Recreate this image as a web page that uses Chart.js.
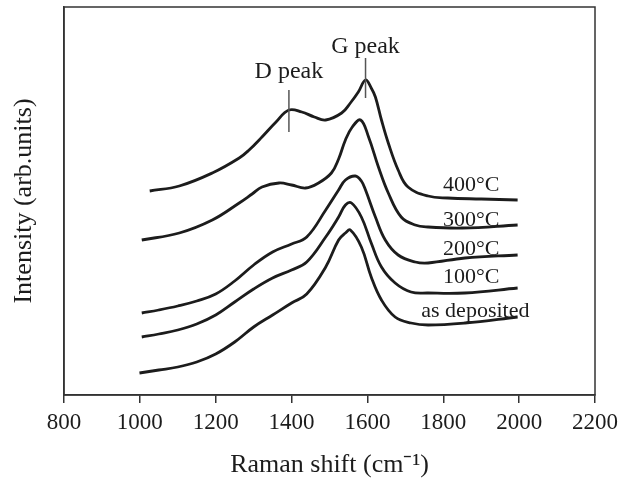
<!DOCTYPE html>
<html>
<head>
<meta charset="utf-8">
<script src="https://cdn.jsdelivr.net/npm/chart.js@4/dist/chart.umd.min.js"></script>
<style>
  body { margin: 0; background: #fff; }
  #chart { display: block; }
</style>
</head>
<body>
<canvas id="chart" width="624" height="483"></canvas>
<script>
// Raman spectra, values (arbitrary intensity units)
var shift400 = [1026, 1104, 1191, 1262, 1288, 1322, 1359, 1393, 1427, 1460, 1490, 1532, 1555, 1576, 1595, 1610, 1621, 1637, 1655, 1681, 1707, 1760, 1812, 1900, 1996];
var int400   = [204, 209, 222, 237, 245, 258, 273, 285, 283, 278, 275, 282, 292, 303, 315, 307, 298, 275, 252, 225, 208, 199, 197, 196, 195];

var shift300 = [1005, 1104, 1191, 1262, 1296, 1322, 1367, 1400, 1437, 1471, 1505, 1524, 1542, 1560, 1582, 1603, 1629, 1655, 1689, 1726, 1760, 1850, 1996];
var int300   = [155, 162, 175, 192, 201, 208, 212, 210, 207, 212, 222, 236, 255, 268, 275, 258, 228, 202, 178, 170, 168, 167, 170];

var shift200 = [1005, 1050, 1100, 1150, 1200, 1250, 1300, 1350, 1400, 1440, 1490, 1524, 1542, 1568, 1584, 1595, 1621, 1647, 1681, 1726, 1760, 1857, 1996];
var int200   = [82, 85, 89, 94, 101, 114, 130, 143, 151, 158, 185, 205, 215, 219, 214, 205, 178, 155, 140, 133, 132, 137, 140];

var shift100 = [1005, 1050, 1100, 1150, 1200, 1250, 1300, 1350, 1400, 1440, 1490, 1524, 1542, 1558, 1584, 1610, 1637, 1673, 1715, 1760, 1857, 1996];
var int100   = [58, 61, 65, 71, 80, 93, 106, 117, 125, 133, 158, 178, 190, 192, 178, 152, 128, 112, 103, 102, 102, 107];

var shiftDep = [999, 1050, 1100, 1150, 1200, 1250, 1300, 1350, 1400, 1440, 1490, 1524, 1542, 1555, 1584, 1610, 1637, 1673, 1715, 1760, 1857, 1996];
var intDep   = [22, 25, 28, 33, 41, 53, 68, 80, 92, 101, 128, 155, 162, 165, 148, 118, 95, 78, 72, 70, 72, 78];

var xTicks = [800, 1000, 1200, 1400, 1600, 1800, 2000, 2200];

// text labels next to the curves
var curveLabels = ['400°C', '300°C', '200°C', '100°C', 'as deposited'];
var labelShift = [1799, 1799, 1799, 1799, 1742];
var labelIntensity = [210, 175, 146, 118, 84];

// peak markers
var peakNames = ['D peak', 'G peak'];
var peakShift = [1393, 1595];
var peakTickLow = [263, 297];
var peakTickHigh = [305, 337];
var peakLabelAt = [323, 348];

var serif = '"Liberation Serif", "Times New Roman", serif';
var ink = '#1c1c1c';

function toPoints(xs, ys) {
    return xs.map(function(x, i) { return { x: x, y: ys[i] }; });
}

function lineSet(xs, ys) {
    return {
        data: toPoints(xs, ys),
        borderColor: ink,
        borderWidth: 2.8,
        pointRadius: 0,
        fill: false,
        tension: 0.4
    };
}

var annotate = {
    id: 'annotate',
    afterDatasetsDraw: function(chart) {
        var ctx = chart.ctx;
        var xs = chart.scales.x, ys = chart.scales.y;
        var area = chart.chartArea;
        ctx.save();

        // box round the plot
        ctx.strokeStyle = '#333';
        ctx.lineWidth = 1.5;
        ctx.strokeRect(area.left, area.top, area.right - area.left, area.bottom - area.top);

        // peak markers
        ctx.fillStyle = ink;
        ctx.font = '24px ' + serif;
        ctx.textAlign = 'center';
        ctx.textBaseline = 'middle';
        ctx.strokeStyle = '#555';
        ctx.lineWidth = 1.5;
        peakNames.forEach(function(name, i) {
            var px = xs.getPixelForValue(peakShift[i]);
            ctx.beginPath();
            ctx.moveTo(px, ys.getPixelForValue(peakTickHigh[i]));
            ctx.lineTo(px, ys.getPixelForValue(peakTickLow[i]));
            ctx.stroke();
            ctx.fillText(name, px, ys.getPixelForValue(peakLabelAt[i]));
        });

        // curve labels
        ctx.textAlign = 'left';
        ctx.font = '22px ' + serif;
        curveLabels.forEach(function(txt, i) {
            ctx.fillText(txt, xs.getPixelForValue(labelShift[i]), ys.getPixelForValue(labelIntensity[i]));
        });
        ctx.restore();
    }
};

new Chart(document.getElementById('chart').getContext('2d'), {
    type: 'line',
    data: {
        datasets: [
            lineSet(shift400, int400),
            lineSet(shift300, int300),
            lineSet(shift200, int200),
            lineSet(shift100, int100),
            lineSet(shiftDep, intDep)
        ]
    },
    options: {
        responsive: false,
        animation: false,
        layout: { padding: { top: 7, right: 27, left: 0, bottom: 0 } },
        plugins: {
            legend: { display: false },
            tooltip: { enabled: false }
        },
        scales: {
            x: {
                type: 'linear',
                min: 800,
                max: 2200,
                afterFit: function(s) { s.height = 88; },
                afterBuildTicks: function(s) { s.ticks = xTicks.map(function(v) { return { value: v }; }); },
                ticks: {
                    autoSkip: false,
                    maxRotation: 0,
                    padding: 6,
                    color: ink,
                    font: { family: serif, size: 23 },
                    callback: function(v) { return String(v); }
                },
                grid: { drawOnChartArea: false, tickLength: 8, color: '#333', lineWidth: 1.5 },
                border: { color: '#333', width: 1.5 },
                title: {
                    display: true,
                    text: 'Raman shift (cm⁻¹)',
                    color: ink,
                    font: { family: serif, size: 26 },
                    padding: { top: 0, bottom: 2 }
                }
            },
            y: {
                min: 0,
                max: 388,
                afterFit: function(s) { s.width = 64; },
                ticks: { display: false },
                grid: { display: false },
                border: { color: '#333', width: 1.5 },
                title: {
                    display: true,
                    text: 'Intensity (arb.units)',
                    color: ink,
                    font: { family: serif, size: 26 },
                    padding: { top: 9, bottom: 0 }
                }
            }
        }
    },
    plugins: [annotate]
});
</script>
</body>
</html>
